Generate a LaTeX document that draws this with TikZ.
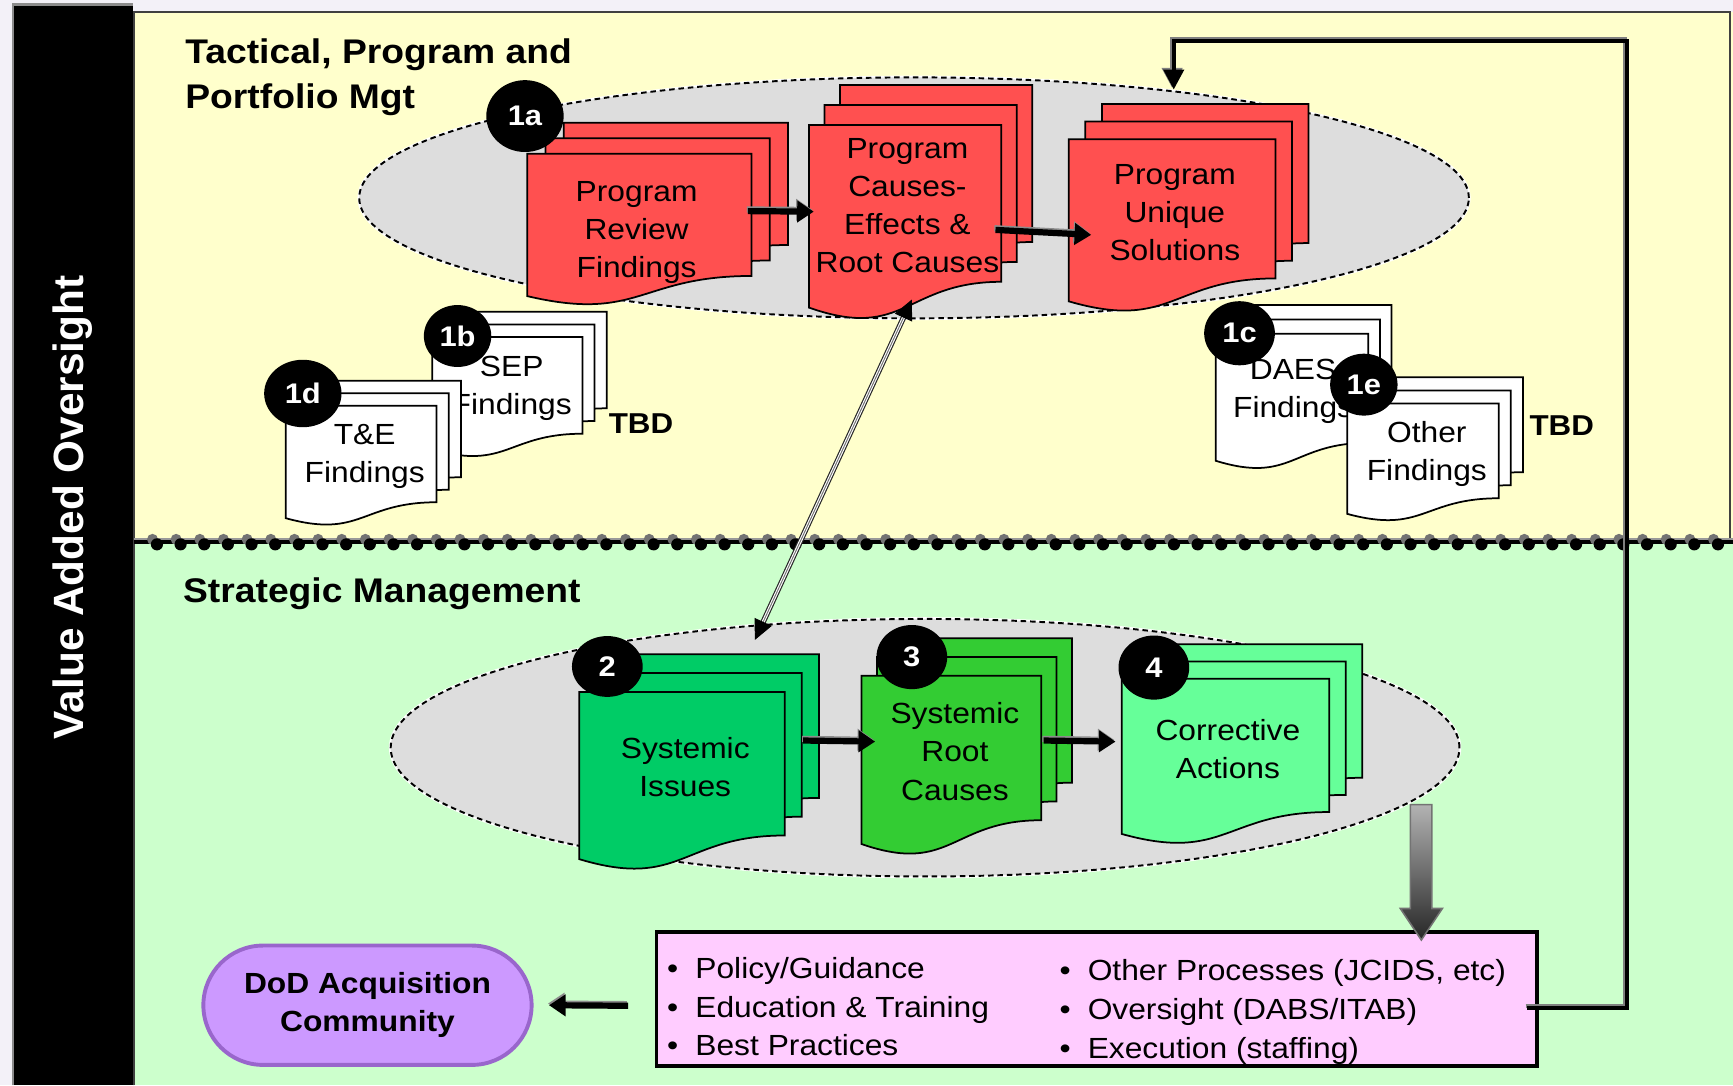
\documentclass[tikz,border=0pt]{standalone}
\usepackage{fontspec}
\setmainfont{Liberation Sans}[FakeStretch=1.09]
\newfontfamily\barfont{Liberation Sans}
\usetikzlibrary{shapes.geometric,arrows.meta}

\definecolor{tacticalbg}{HTML}{FFFFCC}
\definecolor{strategicbg}{HTML}{CCFFCC}
\definecolor{zonegray}{HTML}{DDDDDD}
\definecolor{findingred}{HTML}{FF5050}
\definecolor{issuegreen}{HTML}{00CC66}
\definecolor{rootgreen}{HTML}{33CC33}
\definecolor{actiongreen}{HTML}{66FF99}
\definecolor{listpink}{HTML}{FFCCFF}
\definecolor{dodpurple}{HTML}{CC99FF}
\definecolor{dodedge}{HTML}{9966CC}
\definecolor{pagebg}{HTML}{F3F1F8}

% one page: top left x, top left y, width, height, fill
\newcommand{\docpage}[5]{%
  \filldraw[pageline, fill=#5] ({#1},{#2}) -- ({#1+#3},{#2}) -- ({#1+#3},{#2+0.802*#4})
    .. controls ({#1+0.5*#3},{#2+0.802*#4}) and ({#1+0.5*#3},{#2+1.107*#4}) .. ({#1},{#2+0.934*#4}) -- cycle;}
% three pages, back to front: x, y, width, height, dx, dy, fill
\newcommand{\docstack}[7]{%
  \docpage{#1+2*#5}{#2-2*#6}{#3}{#4}{#7}
  \docpage{#1+#5}{#2-#6}{#3}{#4}{#7}
  \docpage{#1}{#2}{#3}{#4}{#7}}
\newcommand{\listbullet}{\makebox[2.55mm][l]{\textbullet}}

\tikzset{
  pageline/.style={draw=black, line width=0.45pt},
  zone/.style={ellipse, fill=zonegray, draw=black, line width=0.5pt, dash pattern=on 0.5mm off 0.35mm,
    preaction={draw=white, line width=0.9pt, solid}},
  pagetext/.style={align=center, inner sep=0pt, font=\fontsize{7.5}{9.8}\selectfont},
  badge/.style={ellipse, fill=black, text=white, inner sep=0pt, minimum width=6.4mm, minimum height=5.8mm,
    font=\bfseries\fontsize{7.3}{8}\selectfont},
  zonetitle/.style={align=left, inner sep=0pt, anchor=west, font=\bfseries\fontsize{8.8}{11.7}\selectfont},
  tbd/.style={inner sep=0pt, font=\bfseries\fontsize{7.4}{8}\selectfont},
  flowarrow/.style={line width=1.6pt, -{Triangle[length=1.5mm,width=1.9mm]},
    preaction={draw=black!45, line width=1.6pt, transform canvas={shift={(-0.1mm,0.15mm)}}}},
  feedback/.style={line width=1.1pt, -{Triangle[length=1.8mm,width=1.8mm]},
    preaction={draw=black!50, line width=1.1pt, transform canvas={shift={(-0.15mm,0.15mm)}}}},
  linkline/.style={draw=black!85, line width=0.3pt, double=white, double distance=0.8pt},
  listbox/.style={rectangle, fill=listpink, draw=black, line width=1pt, inner sep=0pt},
  listtext/.style={align=left, anchor=west, inner sep=0pt, font=\fontsize{7.5}{9.96}\selectfont},
  dodnode/.style={rectangle, rounded corners=5.4mm, fill=dodpurple, draw=dodedge, line width=1pt,
    minimum width=29.7mm, minimum height=10.8mm, align=center, font=\bfseries\fontsize{7.5}{9.7}\selectfont},
}

\begin{document}
\begin{tikzpicture}[x=0.1mm, y=-0.1mm]
\fill[pagebg] (0,0) rectangle (1568,982);
\useasboundingbox (0,0) rectangle (1568,982);

% panels
\fill[tacticalbg] (121,11) rectangle (1568,490);
\fill[strategicbg] (121,490) rectangle (1568,982);
\draw[black!75, line width=0.6pt] (121,982) -- (121,11) -- (1565,11) -- (1565,490);
\fill[black] (12,4) rectangle (120,982);
\draw[black!45, line width=0.6pt] (12,982) -- (12,4) -- (120,4);
\node[rotate=90, text=white, inner sep=0pt, font=\barfont\bfseries\fontsize{10.9}{12}\selectfont] (oversight) at (66,459) {Value Added Oversight};

% divider
\draw[black!40, line width=0.5pt] (121,487.5) -- (1568,487.5);
\draw[black, line width=1pt] (121,490.5) -- (1568,490.5);
\foreach \i in {0,...,66} {
  \fill[black!55] ({138+21.4*\i},488) circle [radius=0.5mm];
  \fill[black] ({142+21.4*\i},492.5) circle [radius=0.55mm];
}

\node[zonetitle] (tactitle) at (167,70) {Tactical, Program and\\Portfolio Mgt};
\node[zonetitle] (strattitle) at (165,537) {Strategic Management};

% zones
\node[zone, minimum width=100.4mm, minimum height=21.8mm] (tacticalzone) at (827,179) {};
\node[zone, minimum width=96.7mm, minimum height=23.3mm] (strategiczone) at (837,676.5) {};

% program level
\docstack{477}{139}{203}{138}{16.5}{14}{findingred}
\docstack{732}{113}{174}{177}{14}{18}{findingred}
\docstack{967}{126}{187}{157}{15}{16}{findingred}
\node[pagetext, minimum width=20.3mm] (review) at (576,210) {Program\\Review\\Findings};
\node[pagetext, minimum width=17.4mm] (causes) at (821,186) {Program\\Causes-\\Effects \&\\Root Causes};
\node[pagetext, minimum width=18.7mm] (solutions) at (1063,192) {Program\\Unique\\Solutions};
\draw[flowarrow] ([xshift=-0.15mm,yshift=1.9mm]review.east) -- ([xshift=0.3mm,yshift=-0.55mm]causes.west);
\draw[flowarrow] ([xshift=-0.8mm,yshift=-2.2mm]causes.east) -- ([xshift=1.85mm,yshift=-2.05mm]solutions.west);
\node[badge, minimum width=7mm, minimum height=6.5mm] (b1a) at (475,105) {1a};

\docstack{391}{305}{136}{109}{11}{11.5}{white}
\node[pagetext] (sep) at (463,351) {SEP\\Findings};
\node[badge, minimum width=6.1mm, minimum height=5.6mm] (b1b) at (414,304) {1b};
\node[tbd] (tbdleft) at (580,383) {TBD};
\docstack{258.5}{367}{136.5}{109}{11}{11.3}{white}
\node[pagetext] (tande) at (330,413) {T\&E\\Findings};
\node[badge, minimum width=7mm, minimum height=6.1mm] (b1d) at (274,356) {1d};

\docstack{1100}{302}{138}{123}{10.5}{13}{white}
\node[pagetext] (daes) at (1170,354) {DAES\\Findings};
\node[badge] (b1c) at (1121.5,301.5) {1c};
\docstack{1219}{365}{137}{107}{11}{11.8}{white}
\node[pagetext] (other) at (1291,411) {Other\\Findings};
\node[badge, minimum width=6.1mm, minimum height=5.6mm] (b1e) at (1234,348) {1e};
\node[tbd] (tbdright) at (1413,385) {TBD};

% strategic level
\docstack{524}{626}{186}{162}{15.5}{17}{issuegreen}
\docstack{779.4}{611.4}{162.6}{163}{14}{17}{rootgreen}
\docstack{1015}{614}{187.6}{150.5}{15}{15.5}{actiongreen}
\node[pagetext, minimum width=18.6mm] (issues) at (620,694) {Systemic\\Issues};
\node[pagetext, minimum width=16.3mm] (rootcauses) at (864,680) {Systemic\\Root\\Causes};
\node[pagetext, minimum width=18.8mm] (corrective) at (1111,678) {Corrective\\Actions};
\draw[flowarrow] ([xshift=1.3mm,yshift=2.4mm]issues.east) -- ([xshift=1.0mm,yshift=0.9mm]rootcauses.west);
\draw[flowarrow] ([xshift=-0.2mm,yshift=1mm]rootcauses.east) -- ([xshift=-0.7mm,yshift=0.7mm]corrective.west);
\node[badge, minimum height=5.5mm] (b2) at (549.5,603) {2};
\node[badge] (b3) at (825,594.5) {3};
\node[badge] (b4) at (1044,604) {4};

% link between levels
\coordinate (linktop) at (825,271);
\coordinate (linkbottom) at (683,579);
\draw[linkline, shorten <=1.7mm, shorten >=1.7mm] (linktop) -- (linkbottom);
\draw[black!55, line width=0.25pt, {Triangle[length=1.8mm,width=1.7mm,color=black]}-{Triangle[length=1.8mm,width=1.7mm,color=black]}] (linktop) -- (linkbottom);

% outputs
\node[listbox, minimum width=79.7mm, minimum height=12.1mm] (actions) at (992.5,904) {};
\node[listtext] (leftlist) at (603,911) {\listbullet Policy/Guidance\\\listbullet Education \& Training\\\listbullet Best Practices};
\node[listtext] (rightlist) at (958,915.5) {\listbullet Other Processes (JCIDS, etc)\\\listbullet Oversight (DABS/ITAB)\\\listbullet Execution (staffing)};
\shade[top color=black!30, bottom color=black!85, draw=black!55, line width=0.4pt]
  (1276,728) -- (1295.5,728) -- (1295.5,822) -- (1305,822) -- (1286,850.5) -- (1267,822) -- (1276,822) -- cycle;
\node[dodnode] (dod) at (332.5,909.5) {DoD Acquisition\\Community};
\draw[flowarrow] ([xshift=-2.4mm,yshift=-0.6mm]actions.west) -- ([xshift=1.4mm]dod.east);

% feedback loop
\coordinate (loopcorner) at (1472,37);
\coordinate (looptip) at (1062,81);
\draw[feedback] ([xshift=-1.1mm,yshift=-0.8mm]actions.east) -| (loopcorner) -| (looptip);
\end{tikzpicture}
\end{document}
